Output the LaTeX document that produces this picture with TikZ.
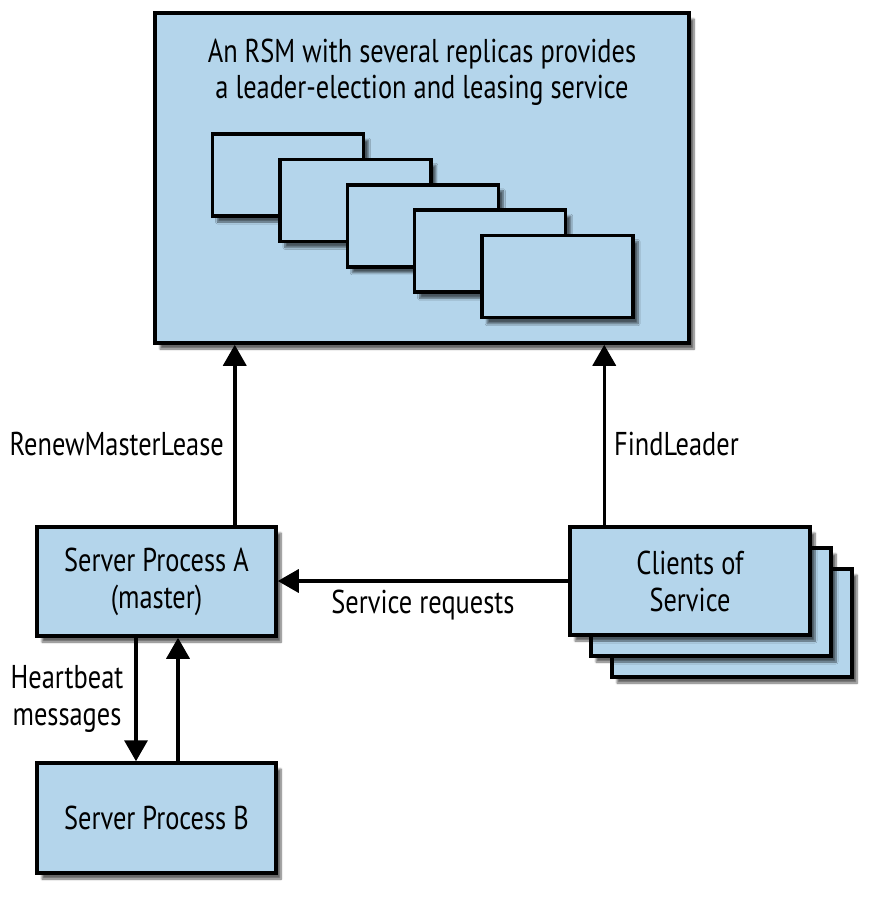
\documentclass[tikz,border=0pt]{standalone}
\usepackage{fontspec}
\setmainfont{PT Sans}[FakeStretch=0.8]
\usetikzlibrary{arrows.meta,calc,shadows.blur}
\definecolor{boxblue}{RGB}{180,213,235}
\newcommand\diagfont{\fontsize{33}{37}\selectfont}
\tikzset{
  box/.style={draw=black, line width=3.5pt, fill=boxblue,
    blur shadow={shadow xshift=5pt, shadow yshift=-6pt, shadow blur steps=8, shadow opacity=60},
    inner sep=0pt, align=center, font=\diagfont},
  arr/.style={line width=3.5pt, -{Triangle[width=23pt,length=21pt]}},
  lbl/.style={font=\diagfont, inner sep=0pt}
}
\begin{document}
\begin{tikzpicture}[x=1pt,y=-1pt]
\useasboundingbox (0,0) rectangle (876,900);
% RSM box
\node[box, minimum width=534pt, minimum height=330pt] (rsm) at (422,178) {};
\node[lbl, align=center, font=\fontsize{33}{36}\selectfont] (title) at (422,72) {An RSM with several replicas provides\\a leader-election and leasing service};
\foreach \i in {0,...,4}
  \node[box, minimum width=151pt, minimum height=82pt] (r\i) at ({288+67.4*\i},{175+25.4*\i}) {};
% servers
\node[box, minimum width=239pt, minimum height=109pt] (A) at (156.5,581.5) {Server Process A\\(master)};
\node[box, minimum width=239pt, minimum height=110pt] (B) at (156.5,818) {Server Process B};
% clients
\node[box, minimum width=240pt, minimum height=108pt] (C3) at (732,623) {};
\node[box, minimum width=240pt, minimum height=108pt] (C2) at (711,602) {};
\node[box, minimum width=240pt, minimum height=108pt] (C1) at (690,581) {Clients of\\Service};
% arrows
\coordinate (aup) at ($(A.north east)+(-43,0)$);
\draw[arr] (aup) -- (aup |- rsm.south);
\coordinate (cup) at ($(C1.north west)+(36,0)$);
\draw[arr] (cup) -- (cup |- rsm.south);
\draw[arr] (C1.west) -- (C1.west -| A.east);
\coordinate (hd) at ($(A.south)+(-20.5,0)$);
\draw[arr] (hd) -- (hd |- B.north);
\coordinate (hu) at ($(B.north)+(21.5,0)$);
\draw[arr] (hu) -- (hu |- A.south);
% labels
\node[lbl, anchor=east] (renew) at (224,444) {RenewMasterLease};
\node[lbl, anchor=west] (find) at (614,444) {FindLeader};
\node[lbl] (svc) at (423,605) {Service requests};
\node[lbl, align=center] (hb) at (67,699) {Heartbeat\\messages};
\end{tikzpicture}
\end{document}
